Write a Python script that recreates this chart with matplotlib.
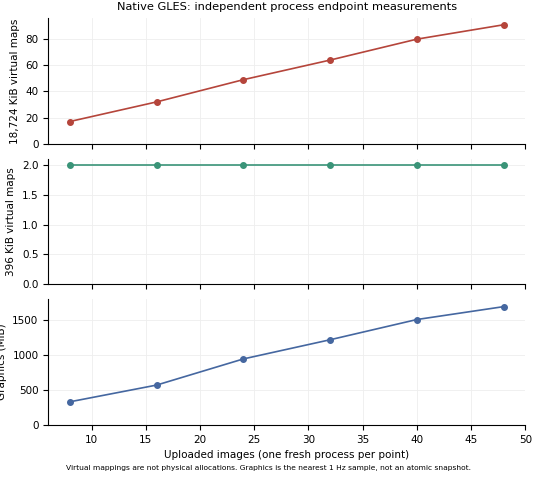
import matplotlib.pyplot as plt

images = [8, 16, 24, 32, 40, 48]
maps_18724 = [17, 32, 49, 64, 80, 91]
maps_396 = [2, 2, 2, 2, 2, 2]
graphics_mib = [330, 570, 945, 1220, 1510, 1695]

fig, axes = plt.subplots(3, 1, figsize=(5.36, 4.8), dpi=100, sharex=True)
series = [
    (maps_18724, '#b5453b', '18,724 KiB virtual maps'),
    (maps_396, '#3a9478', '396 KiB virtual maps'),
    (graphics_mib, '#4567a0', 'Graphics (MiB)'),
]
for ax, (vals, col, lab) in zip(axes, series):
    ax.plot(images, vals, '-o', color=col, markersize=4, linewidth=1.2)
    ax.set_ylabel(lab, fontsize=7.5)
    ax.grid(True, color='#eeeeee', linewidth=0.6)
    ax.spines['top'].set_visible(False)
    ax.spines['right'].set_visible(False)
    ax.tick_params(labelsize=7.5)

axes[0].set_ylim(0, 96)
axes[0].set_yticks([0, 20, 40, 60, 80])
axes[1].set_ylim(0, 2.1)
axes[1].set_yticks([0, 0.5, 1.0, 1.5, 2.0])
axes[2].set_ylim(0, 1800)
axes[2].set_yticks([0, 500, 1000, 1500])
axes[2].set_xlim(6, 50)
axes[2].set_xticks([10, 15, 20, 25, 30, 35, 40, 45, 50])
axes[2].set_xlabel('Uploaded images (one fresh process per point)', fontsize=7.5)
axes[0].set_title('Native GLES: independent process endpoint measurements', fontsize=8.2)

fig.text(0.5, 0.02, 'Virtual mappings are not physical allocations. Graphics is the nearest 1 Hz sample, not an atomic snapshot.',
         ha='center', fontsize=5.4)
fig.subplots_adjust(left=0.09, right=0.98, top=0.962, bottom=0.115, hspace=0.12)
fig.savefig('out.png')
